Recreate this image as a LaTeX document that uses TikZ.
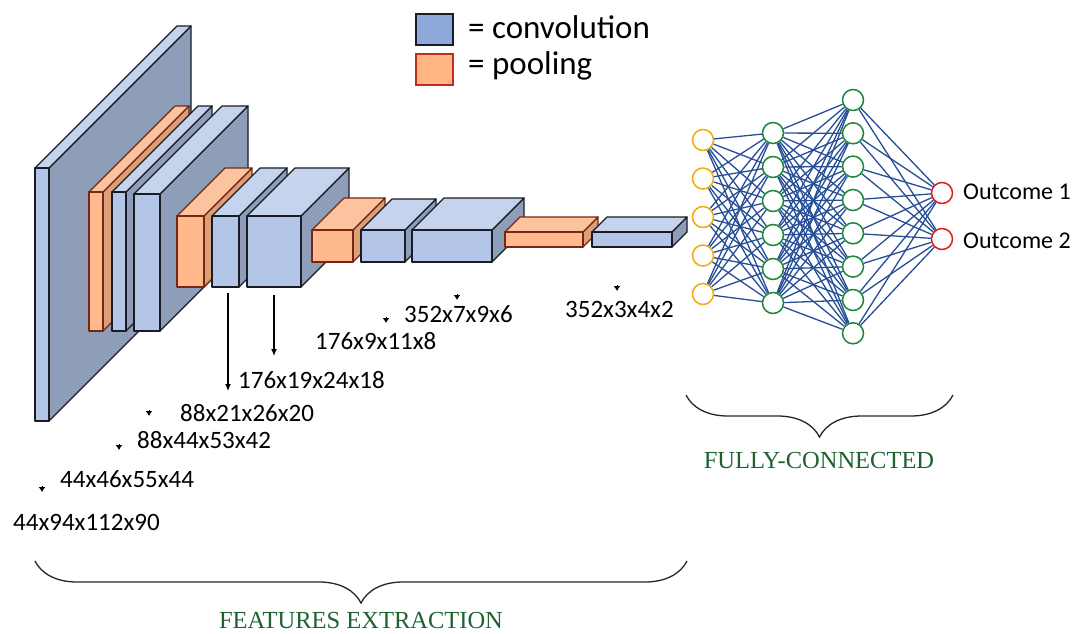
\documentclass[tikz,border=0pt]{standalone}
\usepackage{fontspec}
\usetikzlibrary{arrows.meta,decorations.pathreplacing}
\newfontfamily\calfont{Carlito}
\newfontfamily\tnrfont{Liberation Serif}
\definecolor{convfront}{RGB}{180,198,231}
\definecolor{convtop}{RGB}{197,211,236}
\definecolor{convside}{RGB}{143,158,184}
\definecolor{convedge}{RGB}{25,28,38}
\definecolor{poolfront}{RGB}{255,185,140}
\definecolor{pooltop}{RGB}{252,196,158}
\definecolor{poolside}{RGB}{218,160,120}
\definecolor{pooledge}{RGB}{120,38,20}
\definecolor{legblue}{RGB}{142,169,219}
\definecolor{legorange}{RGB}{255,182,130}
\definecolor{legred}{RGB}{192,45,30}
\definecolor{nnin}{RGB}{242,172,10}
\definecolor{nnhid}{RGB}{30,135,60}
\definecolor{nnout}{RGB}{225,30,30}
\definecolor{nnedge}{RGB}{38,78,150}
\definecolor{captgreen}{RGB}{30,98,48}
\pgfdeclarelayer{bg}
\pgfsetlayers{bg,main}
\tikzset{
  conv side/.style={fill=convside,draw=convedge,line width=1.2pt,line join=round},
  conv top/.style={fill=convtop,draw=convedge,line width=1.2pt,line join=round},
  conv front/.style={fill=convfront,draw=convedge,line width=1.2pt,line join=round},
  pool side/.style={fill=poolside,draw=pooledge,line width=1.2pt,line join=round},
  pool top/.style={fill=pooltop,draw=pooledge,line width=1.2pt,line join=round},
  pool front/.style={fill=poolfront,draw=pooledge,line width=1.2pt,line join=round},
  lab/.style={font=\calfont\fontsize{25}{29}\selectfont,inner sep=0pt,anchor=base west},
  outlab/.style={font=\calfont\fontsize{24}{28}\selectfont,inner sep=0pt,anchor=base west},
  leglab/.style={font=\calfont\fontsize{33}{38}\selectfont,inner sep=0pt,anchor=base west},
  capt/.style={font=\tnrfont\fontsize{24.5}{28}\selectfont,text=captgreen,inner sep=0pt,anchor=base},
  downarr/.style={line width=1.2pt,-{Latex[length=7pt,width=6pt]}},
  marker/.style={line width=1pt,-{Latex[length=5pt,width=7pt]}},
  neuron/.style={circle,minimum size=21pt,inner sep=0pt,line width=1.5pt,fill=white},
  inneuron/.style={neuron,draw=nnin},
  hidneuron/.style={neuron,draw=nnhid},
  outneuron/.style={neuron,draw=nnout},
  edge/.style={draw=nnedge,line width=1.3pt},
  bracestyle/.style={draw=black!85,line width=1.3pt,decorate,decoration={brace,mirror,amplitude=42pt}},
}
\newcommand\cuboid[6]{%
  \filldraw[#6 side] (#2,#3) -- ({#2+#5},{#3-#5}) -- ({#2+#5},{#4-#5}) -- (#2,#4) -- cycle;
  \filldraw[#6 top] (#1,#3) -- ({#1+#5},{#3-#5}) -- ({#2+#5},{#3-#5}) -- (#2,#3) -- cycle;
  \filldraw[#6 front] (#1,#3) rectangle (#2,#4);
}
\begin{document}
\begin{tikzpicture}[x=1pt,y=-1pt]
\useasboundingbox (0,0) rectangle (1077,633);
\begin{pgfonlayer}{bg}
\fill[white] (0,0) rectangle (1077,633);
\end{pgfonlayer}

% legend
\node[draw=convedge,fill=legblue,line width=1.2pt,minimum width=37pt,minimum height=31pt,inner sep=0pt] (legconv) at (434.5,29.5) {};
\node[draw=legred,fill=legorange,line width=1.2pt,minimum width=37pt,minimum height=31pt,inner sep=0pt] (legpool) at (434.5,69.5) {};
\node[leglab] (legconvt) at (468,38) {= convolution};
\node[leglab] (legpoolt) at (468,74) {= pooling};

% layers
\cuboid{35}{49}{168}{421}{142}{conv}
\cuboid{89}{103}{192}{331}{86}{pool}
\cuboid{112}{126}{192}{331}{86}{conv}
\cuboid{134}{160}{194}{331}{88}{conv}
\cuboid{177}{204}{216}{287}{48}{pool}
\cuboid{212}{239}{216}{287}{48}{conv}
\cuboid{247}{301}{216}{287}{48}{conv}
\cuboid{312}{353}{230}{262}{32}{pool}
\cuboid{361}{405}{230}{262}{31}{conv}
\cuboid{412}{492}{230}{262}{32}{conv}
\cuboid{505}{583}{232}{247}{15}{pool}
\cuboid{592}{672}{232}{247}{15}{conv}

% arrows below layers
\coordinate (a1s) at (228,293);
\coordinate (a1e) at (228,391);
\coordinate (a2s) at (274,295);
\coordinate (a2e) at (274,356);
\draw[downarr] (a1s) -- (a1e);
\draw[downarr] (a2s) -- (a2e);

% markers
\foreach \n/\x/\y in {m1/149/416, m2/119/450, m3/42/492, m4/386/323, m5/457/300, m6/617/291}{
  \coordinate (\n e) at (\x,\y);
  \coordinate (\n s) at (\x,\y-6);
  \draw[marker] (\n s) -- (\n e);
}

% size labels
\node[lab] (l1) at (238,388) {176x19x24x18};
\node[lab] (l2) at (315,349) {176x9x11x8};
\node[lab] (l3) at (404,322) {352x7x9x6};
\node[lab] (l4) at (565,317) {352x3x4x2};
\node[lab] (l5) at (180,421) {88x21x26x20};
\node[lab] (l6) at (137,448) {88x44x53x42};
\node[lab] (l7) at (60,487) {44x46x55x44};
\node[lab] (l8) at (13,530) {44x94x112x90};

% neural network
\foreach \i/\y in {1/140,2/178.5,3/217,4/255.5,5/294}
  \node[inneuron] (i\i) at (703,\y) {};
\foreach \i/\y in {1/133,2/167,3/201,4/235,5/269,6/303}
  \node[hidneuron] (h\i) at (773,\y) {};
\foreach \i/\y in {1/100,2/133.3,3/166.6,4/200,5/233.3,6/266.6,7/300,8/333.3}
  \node[hidneuron] (g\i) at (853,\y) {};
\node[outneuron] (o1) at (942,193) {};
\node[outneuron] (o2) at (942,239) {};
\begin{pgfonlayer}{bg}
\foreach \a in {1,...,5}
  \foreach \b in {1,...,6}
    \draw[edge] (i\a) -- (h\b);
\foreach \a in {1,...,6}
  \foreach \b in {1,...,8}
    \draw[edge] (h\a) -- (g\b);
\foreach \a in {1,...,8}
  \foreach \b in {1,2}
    \draw[edge] (g\a) -- (o\b);
\end{pgfonlayer}
\node[outlab] (ot1) at (963,199) {Outcome 1};
\node[outlab] (ot2) at (963,248) {Outcome 2};

% braces
\coordinate (fcl) at (686,395);
\coordinate (fcr) at (953,395);
\draw[bracestyle] (fcl) -- (fcr);
\node[capt] (fct) at (819,468) {FULLY-CONNECTED};
\coordinate (fel) at (35,561);
\coordinate (fer) at (687,561);
\draw[bracestyle] (fel) -- (fer);
\node[capt] (fet) at (361,628) {FEATURES EXTRACTION};
\end{tikzpicture}
\end{document}
